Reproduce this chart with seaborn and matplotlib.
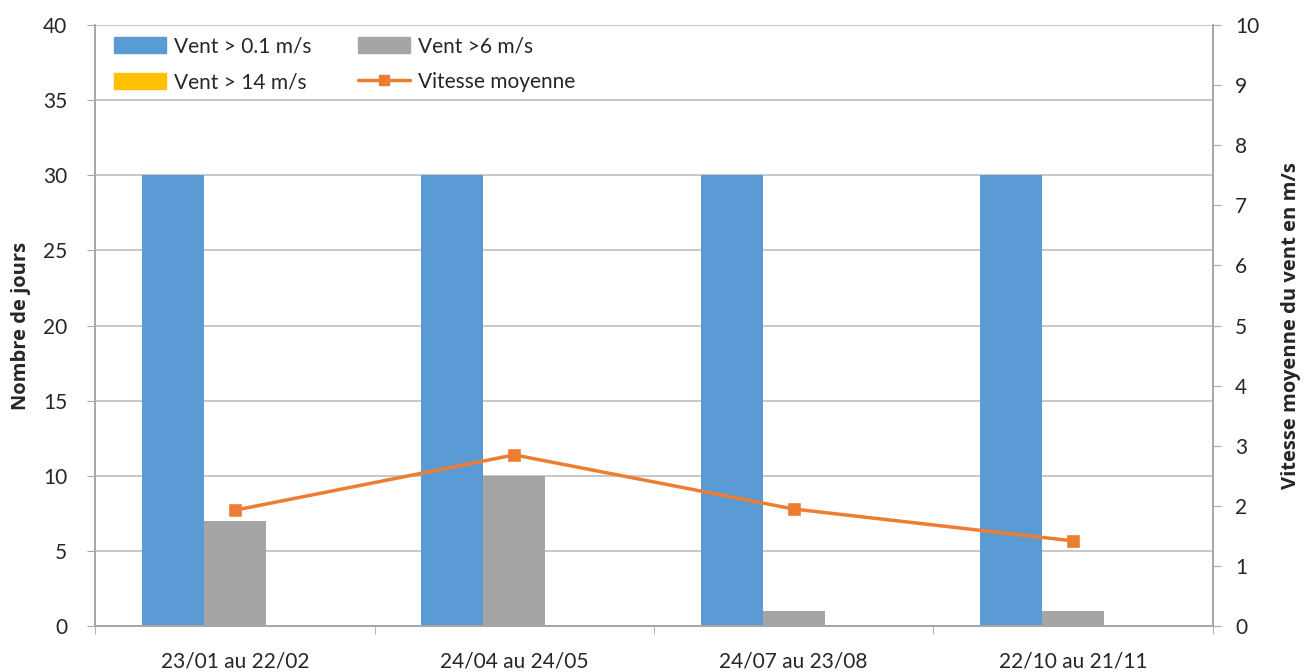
import matplotlib
matplotlib.use("Agg")
import matplotlib.pyplot as plt
import seaborn as sns
import pandas as pd
import numpy as np
from matplotlib.lines import Line2D
from matplotlib.patches import Patch

# Data
periods = ["23/01 au 22/02", "24/04 au 24/05", "24/07 au 23/08", "22/10 au 21/11"]
vent_01 = [30, 30, 30, 30]
vent_6 = [7, 10, 1, 1]
vent_14 = [0, 0, 0, 0]
vitesse_moy = [1.93, 2.85, 1.95, 1.42]

series = ["Vent > 0.1 m/s", "Vent >6 m/s", "Vent > 14 m/s"]
colors = ["#5B9BD5", "#A5A5A5", "#FFC000"]
line_color = "#ED7D31"

df = pd.DataFrame({
    "periode": periods * 3,
    "serie": [series[0]] * 4 + [series[1]] * 4 + [series[2]] * 4,
    "jours": vent_01 + vent_6 + vent_14,
})

sns.set_style("white")
plt.rcParams["font.family"] = ["Lato", "DejaVu Sans"]

fig, ax1 = plt.subplots(figsize=(13.04, 6.72), dpi=100)

sns.barplot(data=df, x="periode", y="jours", hue="serie", palette=colors,
            width=0.665, gap=0, ax=ax1, legend=False, saturation=1, linewidth=0)

ax1.set_ylim(0, 40)
ax1.set_yticks(np.arange(0, 41, 5))
ax1.set_xlim(-0.5, 3.5)
ax1.yaxis.grid(True, color="#BFBFBF", linewidth=1.2)
ax1.set_axisbelow(True)
ax1.set_xlabel("")
ax1.set_ylabel("Nombre de jours", fontsize=14.5, fontweight="bold",
               family=["Open Sans", "DejaVu Sans"], labelpad=9)
ax1.tick_params(axis="y", labelsize=15, length=6, color="#A6A6A6", left=True,
                pad=14, labelcolor="#262626")
ax1.tick_params(axis="x", labelsize=15, length=0, pad=18, labelcolor="#262626")
ax1.set_xticks(np.arange(-0.5, 4, 1), minor=True)
ax1.tick_params(axis="x", which="minor", length=6, color="#A6A6A6", bottom=True)

ax2 = ax1.twinx()
sns.pointplot(x=periods, y=vitesse_moy, color=line_color, markers="s",
              markersize=7, linewidth=2.5, ax=ax2)
ax2.set_xlim(-0.5, 3.5)
ax2.set_ylim(0, 10)
ax2.set_yticks(np.arange(0, 11, 1))
ax2.set_ylabel("Vitesse moyenne du vent en m/s", fontsize=14.5, fontweight="bold",
               family=["Open Sans", "DejaVu Sans"], labelpad=16)
ax2.tick_params(axis="y", labelsize=15, length=6, color="#A6A6A6", right=True,
                pad=10, labelcolor="#262626")

for ax in (ax1, ax2):
    ax.spines["top"].set_visible(False)
    for s in ("left", "right", "bottom"):
        ax.spines[s].set_color("#A6A6A6")
        ax.spines[s].set_linewidth(1.2)

handles = [
    Patch(color=colors[0]), Patch(color=colors[2]),
    Patch(color=colors[1]), Line2D([0], [0], color=line_color, lw=2.5, marker="s", markersize=7),
]
labels = [series[0], series[2], series[1], "Vitesse moyenne"]
ax1.legend(handles, labels, ncol=2, loc="upper left", frameon=False, fontsize=15,
           bbox_to_anchor=(0.0, 1.012), handlelength=2.5, handleheight=0.8,
           handletextpad=0.4, columnspacing=2.2, labelspacing=0.75)

plt.subplots_adjust(left=0.073, right=0.93, top=0.963, bottom=0.068)
fig.savefig("out.png", dpi=100)
